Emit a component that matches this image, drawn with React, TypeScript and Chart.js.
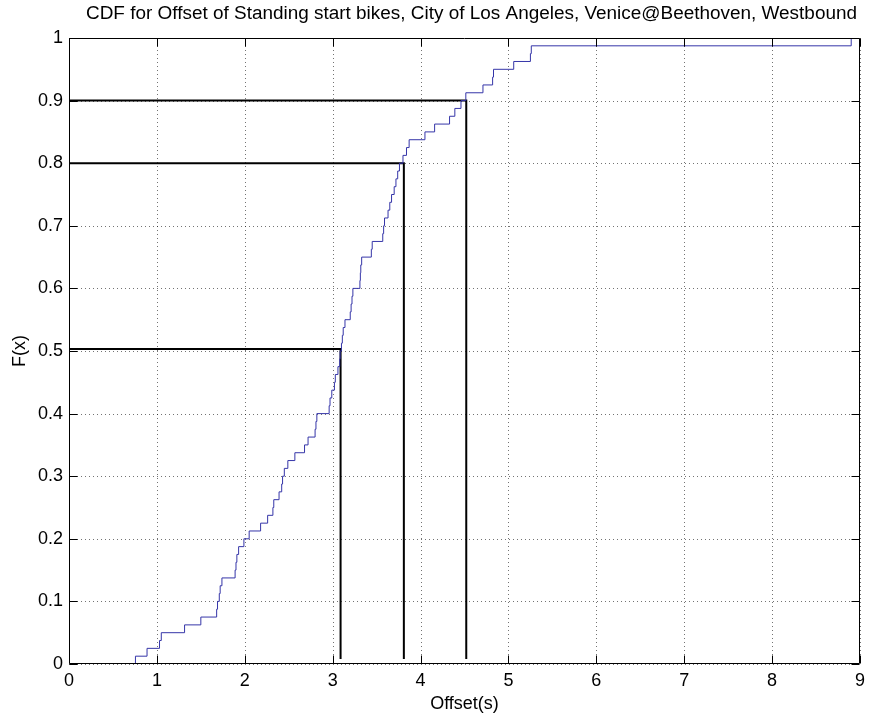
import React, { useEffect, useRef } from 'react';
import { Chart, registerables } from 'chart.js';

Chart.register(...registerables);

const chartTitle =
  'CDF for Offset of Standing start bikes, City of Los Angeles, Venice@Beethoven, Westbound';
const xAxisTitle = 'Offset(s)';
const yAxisTitle = 'F(x)';

const xTicks = [0, 1, 2, 3, 4, 5, 6, 7, 8, 9];
const yTicks = [0, 0.1, 0.2, 0.3, 0.4, 0.5, 0.6, 0.7, 0.8, 0.9, 1];

// Empirical CDF: offset value where each step occurs, and F(x) after the step
const cdfX = [
  0.756, 0.888, 1.03, 1.05, 1.315, 1.5, 1.68, 1.69, 1.71, 1.72, 1.74, 1.89, 1.9, 1.91, 1.93,
  1.99, 2.05, 2.18, 2.26, 2.32, 2.33, 2.39, 2.42, 2.43, 2.45, 2.49, 2.57, 2.68, 2.72, 2.8,
  2.81, 2.82, 2.96, 2.97, 2.99, 3.02, 3.03, 3.06, 3.08, 3.085, 3.1, 3.11, 3.12, 3.14, 3.2,
  3.21, 3.22, 3.23, 3.31, 3.315, 3.32, 3.33, 3.44, 3.45, 3.57, 3.58, 3.59, 3.63, 3.65, 3.67,
  3.7, 3.72, 3.74, 3.76, 3.8, 3.84, 3.87, 4.05, 4.16, 4.33, 4.39, 4.46, 4.515, 4.71, 4.82,
  4.83, 5.06, 5.25, 5.26, 8.9,
];
const cdfF = [
  0.0125, 0.025, 0.0375, 0.05, 0.0625, 0.075, 0.0875, 0.1, 0.1125, 0.125, 0.1375, 0.15,
  0.1625, 0.175, 0.1875, 0.2, 0.2125, 0.225, 0.2375, 0.25, 0.2625, 0.275, 0.2875, 0.3,
  0.3125, 0.325, 0.3375, 0.35, 0.3625, 0.375, 0.3875, 0.4, 0.4125, 0.425, 0.4375, 0.45,
  0.4625, 0.475, 0.4875, 0.5, 0.5125, 0.525, 0.5375, 0.55, 0.5625, 0.575, 0.5875, 0.6,
  0.6125, 0.625, 0.6375, 0.65, 0.6625, 0.675, 0.6875, 0.7, 0.7125, 0.725, 0.7375, 0.75,
  0.7625, 0.775, 0.7875, 0.8, 0.8125, 0.825, 0.8375, 0.85, 0.8625, 0.875, 0.8875, 0.9,
  0.9125, 0.925, 0.9375, 0.95, 0.9625, 0.975, 0.9875, 1.0,
];

// Percentile guide lines (L-shaped, black)
const refLevels = [0.503, 0.8, 0.9];
const refOffsets = [3.09, 3.81, 4.52];
const refFloor = 0.008;

const FONT = '"Liberation Sans", Arial, Helvetica, sans-serif';

const matlabFrame = {
  id: 'matlabFrame',
  beforeDatasetsDraw(chart: any) {
    const { ctx, chartArea: a, scales } = chart;
    const x = scales.x;
    const y = scales.y;
    ctx.save();
    ctx.strokeStyle = 'rgba(0,0,0,0.55)';
    ctx.lineWidth = 1;
    ctx.setLineDash([1, 3]);
    xTicks.forEach((v) => {
      const px = Math.round(x.getPixelForValue(v)) + 0.5;
      ctx.beginPath();
      ctx.moveTo(px, a.top);
      ctx.lineTo(px, a.bottom);
      ctx.stroke();
    });
    yTicks.forEach((v) => {
      const py = Math.round(y.getPixelForValue(v)) + 0.5;
      ctx.beginPath();
      ctx.moveTo(a.left, py);
      ctx.lineTo(a.right, py);
      ctx.stroke();
    });
    ctx.restore();
  },
  afterDatasetsDraw(chart: any) {
    const { ctx, chartArea: a, scales } = chart;
    const x = scales.x;
    const y = scales.y;
    const L = Math.round(a.left) + 0.5;
    const R = Math.round(a.right) - 0.5;
    const T = Math.round(a.top) + 0.5;
    const B = Math.round(a.bottom) - 0.5;
    const tl = 8;
    ctx.save();
    ctx.strokeStyle = '#000';
    ctx.lineWidth = 1;
    ctx.setLineDash([]);
    ctx.beginPath();
    ctx.rect(L, T, R - L, B - T);
    ctx.stroke();
    ctx.beginPath();
    xTicks.forEach((v) => {
      const px = Math.round(x.getPixelForValue(v)) + 0.5;
      ctx.moveTo(px, B);
      ctx.lineTo(px, B - tl);
      ctx.moveTo(px, T);
      ctx.lineTo(px, T + tl);
    });
    yTicks.forEach((v) => {
      const py = Math.round(y.getPixelForValue(v)) + 0.5;
      ctx.moveTo(L, py);
      ctx.lineTo(L + tl, py);
      ctx.moveTo(R, py);
      ctx.lineTo(R - tl, py);
    });
    ctx.stroke();
    ctx.restore();
  },
  afterDraw(chart: any) {
    const { ctx } = chart;
    ctx.save();
    ctx.font = `18px ${FONT}`;
    ctx.fillStyle = '#000';
    ctx.textBaseline = 'alphabetic';
    ctx.textAlign = 'left';
    const w = ctx.measureText(chartTitle).width;
    const targetW = 771;
    const left = 86;
    const sx = targetW / w;
    ctx.translate(left, 19);
    ctx.scale(sx, 1);
    ctx.fillText(chartTitle, 0, 0);
    ctx.restore();
  },
};

export default function App() {
  const canvasRef = useRef<HTMLCanvasElement | null>(null);

  useEffect(() => {
    const canvas = canvasRef.current;
    if (!canvas) return;

    const cdfPoints = [{ x: cdfX[0], y: 0 }].concat(
      cdfX.map((v, i) => ({ x: v, y: cdfF[i] }))
    );

    const refDatasets = refLevels.map((lvl, i) => ({
      type: 'line' as const,
      label: `ref${i}`,
      data: [
        { x: 0, y: lvl },
        { x: refOffsets[i], y: lvl },
        { x: refOffsets[i], y: refFloor },
      ],
      borderColor: '#000',
      borderWidth: 2,
      pointRadius: 0,
      fill: false,
      tension: 0,
    }));

    const chart = new Chart(canvas, {
      type: 'line',
      data: {
        datasets: [
          {
            label: 'CDF',
            data: cdfPoints,
            borderColor: '#3535a8',
            borderWidth: 1,
            pointRadius: 0,
            stepped: 'before',
            fill: false,
          },
          ...refDatasets,
        ],
      },
      options: {
        animation: false,
        responsive: false,
        maintainAspectRatio: false,
        devicePixelRatio: 1,
        layout: { padding: { top: 38, right: 6, bottom: 0, left: 0 } },
        plugins: {
          legend: { display: false },
          title: { display: false },
          tooltip: { enabled: false },
        },
        scales: {
          x: {
            type: 'linear',
            min: 0,
            max: 9,
            afterFit: (s: any) => {
              s.height = 53;
            },
            afterBuildTicks: (s: any) => {
              s.ticks = xTicks.map((v) => ({ value: v }));
            },
            grid: { display: false, drawTicks: false, tickLength: 0 },
            border: { display: false },
            ticks: {
              color: '#000',
              padding: 6,
              maxRotation: 0,
              autoSkip: false,
              font: { family: FONT, size: 18 },
              callback: (v: any) => String(v),
            },
            title: {
              display: true,
              text: xAxisTitle,
              color: '#000',
              font: { family: FONT, size: 18 },
              padding: { top: 0, bottom: 2 },
            },
          },
          y: {
            type: 'linear',
            min: 0,
            max: 1,
            afterFit: (s: any) => {
              s.width = 69;
            },
            afterBuildTicks: (s: any) => {
              s.ticks = yTicks.map((v) => ({ value: v }));
            },
            grid: { display: false, drawTicks: false, tickLength: 0 },
            border: { display: false },
            ticks: {
              color: '#000',
              padding: 6,
              autoSkip: false,
              font: { family: FONT, size: 18 },
              callback: (v: any) => String(Number(Number(v).toFixed(1))),
            },
            title: {
              display: true,
              text: yAxisTitle,
              color: '#000',
              font: { family: FONT, size: 18 },
              padding: { top: 9, bottom: 0 },
            },
          },
        },
      },
      plugins: [matlabFrame],
    });

    return () => {
      chart.destroy();
    };
  }, []);

  return (
    <div style={{ position: 'absolute', left: 0, top: 0, width: 871, height: 717, background: '#fff' }}>
      <canvas ref={canvasRef} width={871} height={717} style={{ display: 'block', width: 871, height: 717 }} />
    </div>
  );
}
